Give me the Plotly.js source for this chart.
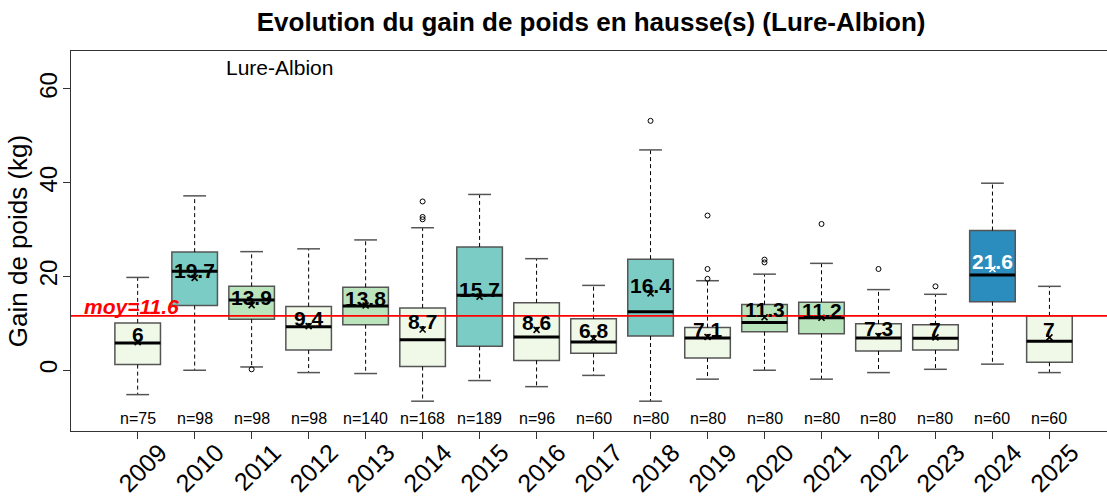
<!DOCTYPE html>
<html>
<head>
<meta charset="utf-8">
<script src="https://cdn.plot.ly/plotly-3.0.1.min.js"></script>
<style>html,body{margin:0;padding:0;overflow:hidden;background:#fff;}</style>
</head>
<body>
<div id="chart" style="width:1107px;height:500px;"></div>
<script>
// ---- data ----
const years  = ['2009','2010','2011','2012','2013','2014','2015','2016','2017','2018','2019','2020','2021','2022','2023','2024','2025'];
const q1     = [1.2, 13.8, 10.9, 4.3, 9.7, 0.8, 5.1, 2.1, 3.6, 7.3, 2.6, 8.2, 7.8, 4.1, 4.3, 14.6, 1.7];
const median = [5.8, 21.1, 15.0, 9.3, 13.7, 6.5, 16.0, 7.1, 6.0, 12.5, 6.9, 10.2, 11.2, 6.9, 6.8, 20.3, 6.2];
const q3     = [10.1, 25.2, 17.9, 13.6, 17.7, 13.3, 26.3, 14.4, 11.0, 23.7, 9.1, 14.0, 14.5, 9.9, 9.7, 29.8, 11.6];
const lowerW = [-5.2, 0.0, 0.7, -0.5, -0.7, -6.6, -2.2, -3.5, -1.1, -6.6, -1.9, 0.0, -1.9, -0.5, 0.2, 1.3, -0.5];
const upperW = [19.8, 37.2, 25.3, 25.9, 27.8, 30.4, 37.5, 23.8, 18.1, 47.0, 19.1, 20.5, 22.8, 17.2, 16.2, 39.9, 17.9];
const means  = [6, 19.7, 13.9, 9.4, 13.8, 8.7, 15.7, 8.6, 6.8, 16.4, 7.1, 11.3, 11.2, 7.3, 7, 21.6, 7];
const nObs   = [75, 98, 98, 98, 140, 168, 189, 96, 60, 80, 80, 80, 80, 80, 80, 60, 60];
const outliers = [[], [], [0.2], [], [], [32.2, 32.7, 36.0], [], [], [], [53.2], [19.5, 21.6, 33.0], [23.0, 23.6], [31.2], [21.6], [17.9], [], []];
const overallMean = 11.6;
const nLabelY = -10.3;

// ---- styling helpers ----
const FONT = 'Liberation Sans, Arial, sans-serif';
const idx = years.map((_, i) => i);
function classColor(m) {
  if (m >= 20) return '#2B8CBE';
  if (m >= 15) return '#7BCCC4';
  if (m >= 10) return '#BAE4BC';
  return '#F0F9E8';
}
const fills = means.map(classColor);
const labelColors = means.map(m => m >= 20 ? '#FFFFFF' : '#000000');

const BOXW = 0.8, CAPW = 0.4;

// whiskers (dashed)
const wx = [], wy = [];
idx.forEach(i => {
  wx.push(i, i, null, i, i, null);
  wy.push(q3[i], upperW[i], null, q1[i], lowerW[i], null);
});
// caps
const cx = [], cy = [];
idx.forEach(i => {
  cx.push(i - CAPW/2, i + CAPW/2, null, i - CAPW/2, i + CAPW/2, null);
  cy.push(upperW[i], upperW[i], null, lowerW[i], lowerW[i], null);
});
// medians
const mx = [], my = [];
idx.forEach(i => {
  mx.push(i - BOXW/2, i + BOXW/2, null);
  my.push(median[i], median[i], null);
});
// outliers
const ox = [], oy = [];
idx.forEach(i => outliers[i].forEach(v => { ox.push(i); oy.push(v); }));

const traces = [
  {type:'scatter', mode:'lines', x:wx, y:wy, line:{color:'#000', width:1, dash:'4px,3px'}, hoverinfo:'skip'},
  {type:'scatter', mode:'lines', x:cx, y:cy, line:{color:'#555', width:1.5}, hoverinfo:'skip'},
  {type:'bar', x:idx, base:q1, y:idx.map(i => q3[i]-q1[i]), width:BOXW,
   marker:{color:fills, line:{color:'#555', width:1.5}}, hoverinfo:'skip'},
  {type:'scatter', mode:'lines', x:mx, y:my, line:{color:'#000', width:3}, hoverinfo:'skip'},
  {type:'scatter', mode:'markers', x:ox, y:oy, marker:{symbol:'circle-open', size:5, color:'#000', line:{width:1}}, hoverinfo:'skip'},
  {type:'scatter', mode:'markers', x:idx, y:means, marker:{symbol:'x-thin-open', size:6, color:labelColors, line:{width:1.6, color:labelColors}}, hoverinfo:'skip'}
];

const layout = {
  width:1107, height:500,
  margin:{l:71, r:0, t:51, b:69},
  paper_bgcolor:'#fff', plot_bgcolor:'#fff',
  showlegend:false,
  font:{family:FONT, color:'#000'},
  bargap:0,
  title:{text:'<b>Evolution du gain de poids en hausse(s) (Lure-Albion)</b>', font:{family:FONT, size:26, color:'#000'},
         x:0.534, xref:'container', xanchor:'center', y:0.956, yref:'container', yanchor:'middle'},
  xaxis:{range:[-1.17, 17.01], tickmode:'array', tickvals:idx, ticktext:years, tickangle:-45,
         tickfont:{family:FONT, size:25, color:'#000'}, ticks:'outside', ticklen:7, tickcolor:'#333',
         ticklabelshift:22, ticklabelstandoff:-11,
         showline:true, linecolor:'#333', linewidth:1, mirror:true, showgrid:false, zeroline:false, fixedrange:true},
  yaxis:{range:[-12.96, 68.1], tickmode:'array', tickvals:[0,20,40,60], tickangle:-90,
         tickfont:{family:FONT, size:24, color:'#000'}, ticks:'outside', ticklen:7, tickcolor:'#333',
         ticklabelstandoff:-4,
         showline:true, linecolor:'#333', linewidth:1, showgrid:false, zeroline:false,
         title:{text:'Gain de poids (kg)', font:{family:FONT, size:26, color:'#000'}, standoff:0}},
  shapes:[
    {type:'line', xref:'paper', x0:0, x1:1, yref:'y', y0:overallMean, y1:overallMean, line:{color:'#FF0000', width:1.8}}
  ],
  annotations:[
    {xref:'x', yref:'y', x:-0.98, y:overallMean, xanchor:'left', yanchor:'bottom', showarrow:false,
     text:'<b><i>moy=' + overallMean + '</i></b>', font:{family:FONT, size:21, color:'#FF0000'}, yshift:-4},
    {xref:'paper', yref:'paper', x:0.2013, y:0.956, xanchor:'center', yanchor:'middle', showarrow:false,
     text:'Lure-Albion', font:{family:FONT, size:21, color:'#000'}}
  ].concat(
    idx.map(i => ({xref:'x', yref:'y', x:i, y:means[i], xanchor:'center', yanchor:'bottom', showarrow:false,
      text:'<b>' + means[i] + '</b>', font:{family:FONT, size:21, color:labelColors[i]}, yshift:-6})),
    idx.map(i => ({xref:'x', yref:'y', x:i, y:nLabelY, xanchor:'center', yanchor:'middle', showarrow:false,
      text:'n=' + nObs[i], font:{family:FONT, size:16, color:'#000'}}))
  )
};

Plotly.newPlot('chart', traces, layout, {displayModeBar:false, staticPlot:true});
</script>
</body>
</html>
